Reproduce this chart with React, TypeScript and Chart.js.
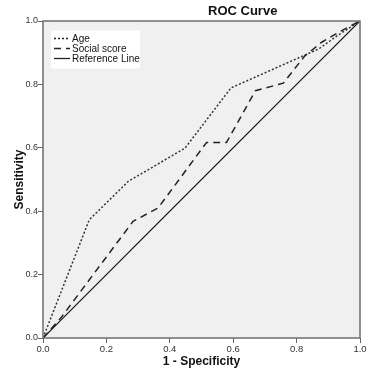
import React, { useEffect, useRef } from "react";
import { Chart, registerables } from "chart.js";

Chart.register(...registerables);

const ageX = [0, 0.146, 0.269, 0.448, 0.593, 0.87, 0.926, 1];
const ageY = [0, 0.373, 0.494, 0.599, 0.789, 0.912, 0.952, 1];
const socialX = [0, 0.056, 0.284, 0.363, 0.516, 0.579, 0.67, 0.758, 0.826, 0.879, 0.93, 1];
const socialY = [0, 0.063, 0.368, 0.41, 0.617, 0.617, 0.78, 0.804, 0.89, 0.933, 0.963, 1];
const refX = [0, 1];
const refY = [0, 1];
const tickValues = [0, 0.2, 0.4, 0.6, 0.8, 1.0];
const seriesNames = ["Age", "Social score", "Reference Line"];
const titleText = "ROC Curve";
const xTitle = "1 - Specificity";
const yTitle = "Sensitivity";

const FONT = "'Liberation Sans', Arial, sans-serif";

const toPts = (xs: number[], ys: number[]) => xs.map((x, i) => ({ x, y: ys[i] }));

export default function App() {
  const ref = useRef<HTMLCanvasElement | null>(null);
  useEffect(() => {
    const canvas = ref.current;
    if (!canvas) return;
    const dashes = [[2, 2], [7, 5], []];
    const bgPlugin = {
      id: "bgPlugin",
      beforeDraw(chart: any) {
        const { ctx, chartArea: a } = chart;
        ctx.save();
        ctx.fillStyle = "#ffffff";
        ctx.fillRect(0, 0, chart.width, chart.height);
        ctx.fillStyle = "#f0f0f0";
        ctx.fillRect(a.left, a.top, a.right - a.left, a.bottom - a.top);
        ctx.restore();
      },
      afterDraw(chart: any) {
        const { ctx, chartArea: a } = chart;
        ctx.save();
        ctx.strokeStyle = "#6e6e6e";
        ctx.lineWidth = 1.5;
        ctx.strokeRect(a.left, a.top, a.right - a.left, a.bottom - a.top);
        // title
        ctx.fillStyle = "#111111";
        ctx.font = `bold 13px ${FONT}`;
        ctx.textAlign = "center";
        ctx.textBaseline = "middle";
        ctx.fillText(titleText, a.left + (a.right - a.left) * 0.63, 11);
        // legend
        const bx = a.left + 8;
        const by = a.top + 9.5;
        ctx.fillStyle = "#ffffff";
        ctx.fillRect(bx, by, 89, 38);
        ctx.font = `10px ${FONT}`;
        ctx.textAlign = "left";
        seriesNames.forEach((name, i) => {
          const y = by + 8 + i * 10;
          ctx.strokeStyle = "#222222";
          ctx.lineWidth = i === 2 ? 1.3 : 1.5;
          ctx.setLineDash(dashes[i]);
          ctx.beginPath();
          ctx.moveTo(bx + 3, y);
          ctx.lineTo(bx + 19, y);
          ctx.stroke();
          ctx.setLineDash([]);
          ctx.fillStyle = "#111111";
          ctx.fillText(name, bx + 21, y + 0.5);
        });
        ctx.restore();
      },
    };
    const chart = new Chart(canvas, {
      type: "scatter",
      data: {
        datasets: [
          {
            label: seriesNames[0],
            data: toPts(ageX, ageY),
            showLine: true,
            borderColor: "#333333",
            borderWidth: 1.5,
            borderDash: [2, 2],
            pointRadius: 0,
            tension: 0,
          },
          {
            label: seriesNames[1],
            data: toPts(socialX, socialY),
            showLine: true,
            borderColor: "#222222",
            borderWidth: 1.5,
            borderDash: [7, 5],
            pointRadius: 0,
            tension: 0,
          },
          {
            label: seriesNames[2],
            data: toPts(refX, refY),
            showLine: true,
            borderColor: "#111111",
            borderWidth: 1.2,
            pointRadius: 0,
            tension: 0,
          },
        ],
      },
      options: {
        animation: false,
        responsive: false,
        events: [],
        layout: { padding: { top: 21, right: 10, left: 0, bottom: 9 } },
        plugins: { legend: { display: false }, title: { display: false }, tooltip: { enabled: false } },
        scales: {
          x: {
            type: "linear",
            min: 0,
            max: 1,
            afterBuildTicks: (s: any) => {
              s.ticks = tickValues.map((v) => ({ value: v }));
            },
            afterFit: (s: any) => {
              s.height = 31;
            },
            ticks: {
              color: "#333333",
              font: { family: FONT, size: 9.5 },
              padding: 1,
              maxRotation: 0,
              callback: (v: any) => Number(v).toFixed(1),
            },
            grid: { drawOnChartArea: false, drawTicks: true, tickLength: 5, color: "#666666" },
            border: { display: false },
            title: {
              display: true,
              text: xTitle,
              color: "#111111",
              font: { family: FONT, size: 12, weight: "bold" },
              padding: { top: 0, bottom: 0 },
            },
          },
          y: {
            type: "linear",
            min: 0,
            max: 1,
            afterBuildTicks: (s: any) => {
              s.ticks = tickValues.map((v) => ({ value: v }));
            },
            afterFit: (s: any) => {
              s.width = 43;
            },
            ticks: {
              color: "#333333",
              font: { family: FONT, size: 9 },
              padding: 0,
              callback: (v: any) => Number(v).toFixed(1),
            },
            grid: { drawOnChartArea: false, drawTicks: true, tickLength: 5, color: "#666666" },
            border: { display: false },
            title: {
              display: true,
              text: yTitle,
              color: "#111111",
              font: { family: FONT, size: 12, weight: "bold" },
              padding: { top: 12, bottom: 0 },
            },
          },
        },
      },
      plugins: [bgPlugin],
    } as any);
    return () => chart.destroy();
  }, []);
  return (
    <div style={{ position: "absolute", left: 0, top: 0, width: 370, height: 378 }}>
      <canvas ref={ref} width={370} height={378} style={{ display: "block" }} />
    </div>
  );
}
